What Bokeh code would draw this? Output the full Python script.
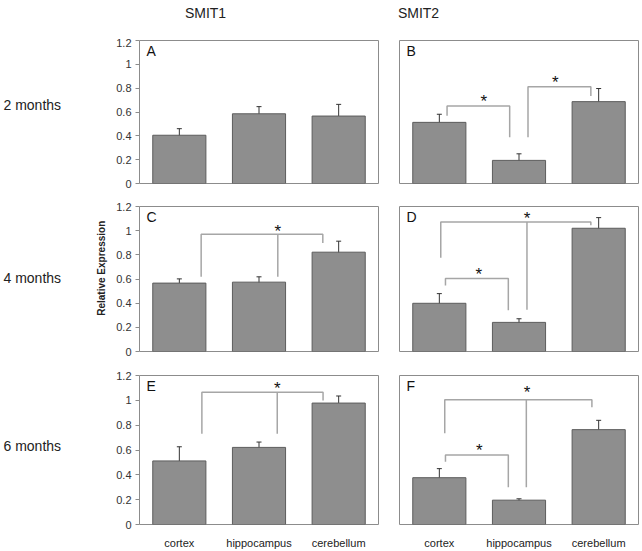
import math
from bokeh.plotting import figure
from bokeh.models import ColumnDataSource, Range1d, FixedTicker, Whisker, TeeHead, Label
from bokeh.layouts import column, row
from bokeh.embed import file_html
from bokeh.resources import INLINE
from bokeh.core.properties import value

# ---------------- data ----------------
categories = ["cortex", "hippocampus", "cerebellum"]
genes = ["SMIT1", "SMIT2"]
ages = ["2 months", "4 months", "6 months"]
panel_letters = ["A", "B", "C", "D", "E", "F"]
y_ticks = [0, 0.2, 0.4, 0.6, 0.8, 1, 1.2]
y_tick_labels = ["0", "0.2", "0.4", "0.6", "0.8", "1", "1.2"]
y_axis_title = "Relative Expression"

expr_A = [0.405, 0.585, 0.566]
err_A = [0.055, 0.060, 0.098]
expr_B = [0.513, 0.194, 0.687]
err_B = [0.068, 0.055, 0.110]
expr_C = [0.566, 0.574, 0.822]
err_C = [0.035, 0.044, 0.091]
expr_D = [0.399, 0.241, 1.020]
err_D = [0.080, 0.030, 0.088]
expr_E = [0.512, 0.621, 0.978]
err_E = [0.114, 0.043, 0.057]
expr_F = [0.377, 0.196, 0.764]
err_F = [0.073, 0.011, 0.075]

# significance brackets: (xs, ys) in category-axis units (0..3), stars: (xs, ys)
brackets_A = []
stars_A = ([], [])
brackets_B = [([0.597, 0.597, 1.383, 1.383], [0.568, 0.651, 0.651, 0.388]),
              ([1.613, 1.613, 2.402, 2.402], [0.388, 0.812, 0.812, 0.734])]
stars_B = ([1.057, 1.955], [0.72, 0.879])
brackets_C = [([0.774, 0.774, 2.301, 2.301], [0.618, 0.971, 0.971, 0.897]),
              ([1.736, 1.736], [0.971, 0.618])]
stars_C = ([1.736], [1.03])
brackets_D = [([0.518, 0.518, 2.402, 2.402], [0.776, 1.0725, 1.0725, 1.045]),
              ([1.600, 1.600], [1.0725, 0.346]),
              ([0.577, 0.577, 1.366, 1.366], [0.546, 0.604, 0.604, 0.341])]
stars_D = ([1.600, 0.994], [1.131, 0.67])
brackets_E = [([0.783, 0.783, 2.304, 2.304], [0.731, 1.066, 1.066, 0.999]),
              ([1.729, 1.729], [1.066, 0.731])]
stars_E = ([1.729], [1.128])
brackets_F = [([0.568, 0.568, 2.415, 2.415], [0.735, 1.004, 1.004, 0.944]),
              ([1.592, 1.592], [1.004, 0.299]),
              ([0.577, 0.577, 1.366, 1.366], [0.506, 0.56, 0.56, 0.299])]
stars_F = ([1.60, 1.003], [1.098, 0.632])

FONT = "Liberation Sans"
BAR_FILL = "#8e8e8e"
BAR_LINE = "#5c5c5c"
FRAME = "#8c8c8c"
BRACKET = "#a6a6a6"
TXT = "#222222"


def blank_fig(w, h):
    p = figure(output_backend="svg", toolbar_location=None, width=w, height=h,
               x_range=Range1d(0, w), y_range=Range1d(0, h),
               min_border=0, min_border_left=0, min_border_right=0,
               min_border_top=0, min_border_bottom=0,
               background_fill_color="white", border_fill_color="white")
    p.outline_line_color = None
    p.xaxis.visible = False
    p.yaxis.visible = False
    p.xgrid.visible = False
    p.ygrid.visible = False
    return p


def make_panel(letter, vals, errs, brackets, stars, left_col, bottom_row,
               frame_h, b_top, b_bottom):
    p = figure(output_backend="svg", toolbar_location=None,
               frame_width=239, frame_height=frame_h,
               x_range=Range1d(0, 3), y_range=Range1d(0, 1.2),
               min_border_left=31 if left_col else 10,
               min_border_right=11 if left_col else 2,
               min_border_top=b_top, min_border_bottom=b_bottom,
               background_fill_color="white", border_fill_color="white")
    p.outline_line_color = FRAME
    p.outline_line_width = 1
    p.xgrid.visible = False
    p.ygrid.visible = False

    xs = [i + 0.5 for i in range(len(categories))]
    src = ColumnDataSource(dict(
        x=xs, top=vals,
        upper=[v + e for v, e in zip(vals, errs)],
        lower=[v - e for v, e in zip(vals, errs)]))
    p.vbar(x="x", top="top", width=0.667, bottom=0, source=src,
           fill_color=BAR_FILL, line_color=BAR_LINE, line_width=1)
    w = Whisker(base="x", upper="upper", lower="lower", source=src,
                line_color="#333333", line_width=1,
                upper_head=TeeHead(size=5, line_color="#333333", line_width=1),
                lower_head=TeeHead(size=5, line_color="#333333", line_width=1))
    p.add_layout(w)

    for bx, by in brackets:
        p.line(bx, by, line_color=BRACKET, line_width=1.5)
    if stars[0]:
        p.text(x=stars[0], y=stars[1], text=["*"] * len(stars[0]),
               text_font=value(FONT), text_font_size="17px",
               text_align="center", text_baseline="middle",
               y_offset=4, text_color="#111111")

    if left_col:
        ax = p.yaxis[0]
        ax.ticker = FixedTicker(ticks=y_ticks)
        ax.major_label_overrides = {t: l for t, l in zip(y_ticks, y_tick_labels)}
        ax.axis_line_color = None
        ax.major_tick_line_color = FRAME
        ax.major_tick_out = 4
        ax.major_tick_in = 0
        ax.minor_tick_line_color = None
        ax.major_label_standoff = 4
        ax.major_label_text_font = FONT
        ax.major_label_text_font_size = "11px"
        ax.major_label_text_color = "#333333"
    else:
        p.yaxis.visible = False

    if bottom_row:
        ax = p.xaxis[0]
        ax.ticker = FixedTicker(ticks=xs)
        ax.major_label_overrides = {x: c for x, c in zip(xs, categories)}
        ax.axis_line_color = None
        ax.major_tick_line_color = None
        ax.minor_tick_line_color = None
        ax.major_tick_out = 0
        ax.major_tick_in = 0
        ax.major_label_standoff = 12
        ax.major_label_text_font = FONT
        ax.major_label_text_font_size = "11px"
        ax.major_label_text_color = TXT
    else:
        p.xaxis.visible = False

    p.add_layout(Label(x=7, y=frame_h - 10, x_units="screen", y_units="screen",
                       text=letter, text_font=FONT, text_font_size="14px",
                       text_baseline="middle", text_align="left",
                       text_color="#111111"))
    return p


pA = make_panel(panel_letters[0], expr_A, err_A, brackets_A, stars_A, True, False, 143, 2, 11)
pB = make_panel(panel_letters[1], expr_B, err_B, brackets_B, stars_B, False, False, 143, 2, 11)
pC = make_panel(panel_letters[2], expr_C, err_C, brackets_C, stars_C, True, False, 145, 12, 12)
pD = make_panel(panel_letters[3], expr_D, err_D, brackets_D, stars_D, False, False, 145, 12, 12)
pE = make_panel(panel_letters[4], expr_E, err_E, brackets_E, stars_E, True, True, 149, 12, 25)
pF = make_panel(panel_letters[5], expr_F, err_F, brackets_F, stars_F, False, True, 149, 12, 25)

# column titles strip
TOP_H = 38
ptitle = blank_fig(640, TOP_H)
ptitle.text(x=[205, 418], y=[TOP_H - 12, TOP_H - 12], text=genes,
            text_font=value(FONT), text_font_size="14px", text_align="center",
            text_baseline="middle", text_color=TXT)

# left label strips
LW = 108
row_heights = [2 + 143 + 11, 12 + 145 + 12, 12 + 149 + 25]
row_label_from_top = [70, 83, 89]
strips = []
for i, (h, ft) in enumerate(zip(row_heights, row_label_from_top)):
    s = blank_fig(LW, h)
    s.text(x=[3], y=[h - ft], text=[ages[i]], text_font=value(FONT),
           text_font_size="14px", text_align="left", text_baseline="middle",
           text_color=TXT)
    strips.append(s)
strips[1].text(x=[101], y=[row_heights[1] - 72], text=[y_axis_title], angle=math.pi / 2,
               text_font=value(FONT), text_font_size="10px", text_font_style="bold",
               text_align="center", text_baseline="middle", text_color=TXT)

layout = column(ptitle,
                row(strips[0], pA, pB),
                row(strips[1], pC, pD),
                row(strips[2], pE, pF))
open("out.html", "w").write(file_html(layout, INLINE))
